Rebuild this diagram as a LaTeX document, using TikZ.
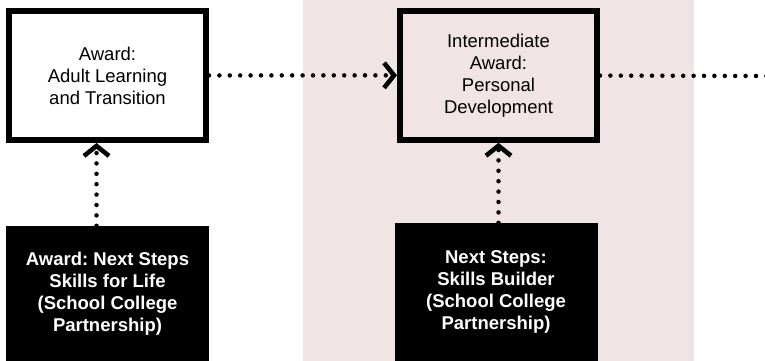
\documentclass[tikz,border=0pt]{standalone}
\usepackage{fontspec}
\setmainfont{Liberation Sans}
\usetikzlibrary{arrows.meta,positioning}
\definecolor{bandpink}{HTML}{F1E4E5}
\frenchspacing

\begin{document}
\begin{tikzpicture}[
  x=1pt,y=-1pt,
  award/.style={draw, line width=6pt, minimum width=197pt, minimum height=129pt, align=center, inner sep=0pt, font=\fontsize{18.5}{22}\selectfont},
  route/.style={fill=black, text=white, minimum width=203pt, align=center, inner sep=0pt, font=\bfseries\fontsize{18.5}{22}\selectfont},
  dots/.style={line width=4.5pt, line cap=round, dash pattern=on 0pt off 10.4pt, -{Straight Barb[length=10pt,width=25pt,line width=4.6pt]}}
]
\useasboundingbox (0,0) rectangle (765,361);
\fill[white] (0,0) rectangle (765,361);
\fill[bandpink] (303,0) rectangle (694,361);
\node[award] (adult) at (107.5,75.5) {Award:\\Adult Learning\\and Transition};
\node[award] (personal) at (498.5,75.3) {Intermediate\\Award:\\Personal\\Development};
\node[route, minimum height=135pt] (skillslife) at (107.5,293.5) {Award: Next Steps\\Skills for Life\\(School College\\Partnership)};
\node[route, minimum height=138pt] (builder) at (496,292) {Next Steps:\\Skills Builder\\(School College\\Partnership)};
\coordinate (onward) at (770,76);
\draw[dots] (adult) -- (personal); \draw[dots, -] (personal) -- (onward);
\draw[dots] ([xshift=-11pt]skillslife.north) -- ([xshift=-11pt]adult.south);
\draw[dots] ([xshift=2.5pt]builder.north) -- (personal.south);
\end{tikzpicture}
\end{document}
